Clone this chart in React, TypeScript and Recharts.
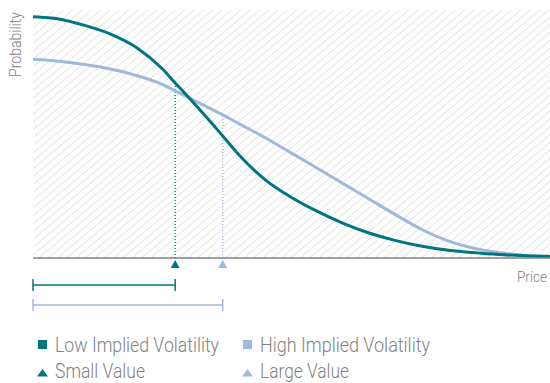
import { LineChart, Line, XAxis, YAxis, ReferenceArea, ReferenceLine, ReferenceDot } from 'recharts';

const prices = [0, 5, 10, 15, 20, 25, 27.5, 30, 35, 36.7, 40, 45, 50, 55, 60, 65, 70, 75, 80, 85, 90, 95, 100];
const lowVol = [97.3, 96.4, 93.8, 90.3, 84.9, 76.3, 70.6, 65.0, 53.3, 49.2, 41.2, 31.4, 24.4, 18.8, 14.0, 10.1, 7.1, 4.8, 3.2, 2.2, 1.4, 0.9, 0.6];
const highVol = [80.1, 79.3, 78.0, 76.2, 73.6, 70.0, 67.4, 64.8, 59.5, 57.7, 54.0, 48.4, 42.3, 36.2, 30.0, 23.8, 17.6, 11.7, 7.1, 4.0, 2.2, 1.1, 0.6];

const smallValue = 27.5;
const largeValue = 36.7;

const TEAL = '#00747f';
const BLUE = '#9fb9da';
const TEXT = '#808285';
const FONT = 'Roboto, sans-serif';

const data = prices.map((price, i) => ({ price, low: lowVol[i], high: highVol[i] }));
const probAt = (series: number[], price: number) => series[prices.indexOf(price)];

// x, baseline and drawn width of each legend entry
const legendItems = [
  { label: 'Low Implied Volatility', color: TEAL, shape: 'square', x: 37, y: 352, w: 164 },
  { label: 'High Implied Volatility', color: BLUE, shape: 'square', x: 242, y: 352, w: 170 },
  { label: 'Small Value', color: TEAL, shape: 'triangle', x: 37, y: 378, w: 90 },
  { label: 'Large Value', color: BLUE, shape: 'triangle', x: 242, y: 378, w: 89 },
];

// horizontal span drawn a fixed distance under the axis, with end caps
const rangeShape = (color: string, offset: number) => (p: any) => {
  const y = p.y1 + offset;
  return (
    <g stroke={color} strokeWidth={1.5}>
      <line x1={p.x1} x2={p.x2} y1={y} y2={y} />
      <line x1={p.x1} x2={p.x1} y1={y - 6} y2={y + 6} />
      <line x1={p.x2} x2={p.x2} y1={y - 6} y2={y + 6} />
    </g>
  );
};

const triangle = (color: string) => (p: any) => (
  <path d={`M${p.cx},${p.cy + 2} L${p.cx + 4.5},${p.cy + 10} L${p.cx - 4.5},${p.cy + 10} Z`} fill={color} />
);

function ChartLegend() {
  return (
    <svg width={550} height={383} style={{ position: 'absolute', left: 0, top: 0, pointerEvents: 'none' }}>
      {legendItems.map((item) => (
        <g key={item.label}>
          {item.shape === 'square' ? (
            <rect x={item.x + 1} y={item.y - 12} width={9} height={9} fill={item.color} />
          ) : (
            <path d={`M${item.x + 5.5},${item.y - 9} L${item.x + 11},${item.y - 1.5} L${item.x},${item.y - 1.5} Z`} fill={item.color} />
          )}
          <text
            x={item.x + 18}
            y={item.y}
            fontFamily={FONT}
            fontWeight={300}
            fontSize={20}
            fill={TEXT}
            textLength={item.w}
            lengthAdjust="spacingAndGlyphs"
          >
            {item.label}
          </text>
        </g>
      ))}
    </svg>
  );
}

export default function App() {
  return (
    <div style={{ position: 'relative', width: 550, height: 383, background: '#fff' }}>
      <style>{'body{margin:0}'}</style>
      <LineChart width={550} height={383} data={data} margin={{ top: 10, right: 0, bottom: 95, left: 0 }}>
        <defs>
          <pattern id="hatch" width="6" height="6" patternUnits="userSpaceOnUse" patternTransform="rotate(50)">
            <line x1="0" y1="0" x2="0" y2="6" stroke="#dcdcdc" strokeWidth="1.5" />
          </pattern>
        </defs>
        <XAxis
          type="number"
          dataKey="price"
          domain={[0, 100]}
          tick={false}
          tickLine={false}
          height={30}
          axisLine={{ stroke: '#808080', strokeWidth: 1.5 }}
          label={({ viewBox }: any) => (
            <text
              x={viewBox.x + viewBox.width - 33}
              y={viewBox.y + 24}
              textAnchor="start"
              fill={TEXT}
              fontSize={15}
              fontWeight={300}
              fontFamily={FONT}
              textLength={30}
              lengthAdjust="spacingAndGlyphs"
            >
              Price
            </text>
          )}
        />
        <YAxis
          domain={[0, 100]}
          width={33}
          tick={false}
          tickLine={false}
          axisLine={false}
          label={({ viewBox }: any) => (
            <text
              x={viewBox.x + 21}
              y={viewBox.y + 34.5}
              transform={`rotate(-90 ${viewBox.x + 21} ${viewBox.y + 34.5})`}
              textAnchor="middle"
              fill={TEXT}
              fontSize={16}
              fontWeight={300}
              fontFamily={FONT}
              textLength={65}
              lengthAdjust="spacingAndGlyphs"
            >
              Probability
            </text>
          )}
        />
        <ReferenceArea x1={0} x2={100} y1={0} y2={100} fill="url(#hatch)" fillOpacity={1} stroke="none" />
        <ReferenceLine segment={[{ x: smallValue, y: 0 }, { x: smallValue, y: probAt(lowVol, smallValue) }]} stroke={TEAL} strokeWidth={1.3} strokeDasharray="1 2" />
        <ReferenceLine segment={[{ x: largeValue, y: 0 }, { x: largeValue, y: probAt(highVol, largeValue) }]} stroke={BLUE} strokeWidth={1.3} strokeDasharray="1 2" />
        <Line type="monotone" dataKey="high" stroke={BLUE} strokeWidth={3} dot={false} isAnimationActive={false} />
        <Line type="monotone" dataKey="low" stroke={TEAL} strokeWidth={3} dot={false} isAnimationActive={false} />
        <ReferenceDot x={smallValue} y={0} shape={triangle(TEAL)} />
        <ReferenceDot x={largeValue} y={0} shape={triangle(BLUE)} />
        <ReferenceLine segment={[{ x: 0, y: 0 }, { x: smallValue, y: 0 }]} shape={rangeShape(TEAL, 27)} />
        <ReferenceLine segment={[{ x: 0, y: 0 }, { x: largeValue, y: 0 }]} shape={rangeShape(BLUE, 47)} />
      </LineChart>
      <ChartLegend />
    </div>
  );
}
